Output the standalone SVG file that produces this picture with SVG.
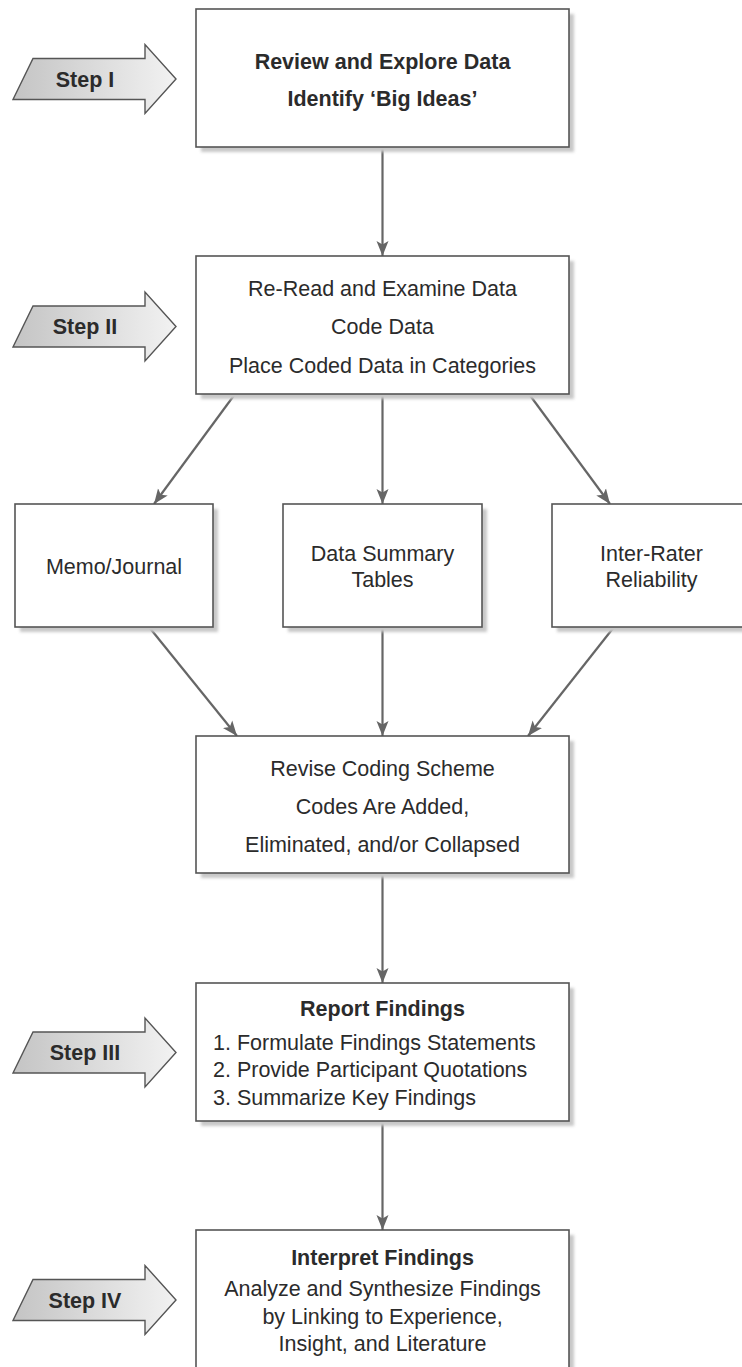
<svg xmlns="http://www.w3.org/2000/svg" width="742" height="1367" viewBox="0 0 742 1367">
  <defs>
    <linearGradient id="stepFill" x1="0" y1="0" x2="1" y2="0">
      <stop offset="0" stop-color="#c4c4c4"/>
      <stop offset="1" stop-color="#f2f2f2"/>
    </linearGradient>
    <filter id="soft" x="-5%" y="-5%" width="110%" height="110%">
      <feGaussianBlur stdDeviation="1.5"/>
    </filter>
    <marker id="ah" markerUnits="userSpaceOnUse" markerWidth="16" markerHeight="16" viewBox="0 0 16 16" refX="15" refY="8" orient="auto">
      <path d="M0,2 L15,8 L0,14 L3.5,8 Z" fill="#666"/>
    </marker>
    <path id="stepShape" d="M13,20.5 L33,-20.5 L145,-20.5 L145,-34.5 L176,0 L145,34.5 L145,20.5 Z"/>
  </defs>
  <style>
    .box { fill: #fff; stroke: #555; stroke-width: 1.6; }
    .shadow { fill: #c8c8c8; filter: url(#soft); }
    .step { fill: url(#stepFill); stroke: #555; stroke-width: 1.4; }
    .t { font-family: "Liberation Sans", Arial, sans-serif; font-size: 21.5px; fill: #2b2b2b; text-anchor: middle; }
    .b { font-weight: bold; }
    .l { text-anchor: start; }
    .conn { stroke: #666; stroke-width: 2.2; fill: none; marker-end: url(#ah); }
  </style>
  <rect width="742" height="1367" fill="#fff"/>

  <g id="connectors">
    <line class="conn" x1="382.5" y1="147" x2="382.5" y2="256"/>
    <line class="conn" x1="235" y1="394" x2="154" y2="504"/>
    <line class="conn" x1="382.5" y1="394" x2="382.5" y2="504"/>
    <line class="conn" x1="529" y1="394" x2="610" y2="504"/>
    <line class="conn" x1="149" y1="627" x2="237" y2="736"/>
    <line class="conn" x1="382.5" y1="627" x2="382.5" y2="736"/>
    <line class="conn" x1="614" y1="627" x2="528" y2="736"/>
    <line class="conn" x1="382.5" y1="873" x2="382.5" y2="983"/>
    <line class="conn" x1="382.5" y1="1121" x2="382.5" y2="1230"/>
  </g>

  <g id="step1" transform="translate(0,79)">
    <use href="#stepShape" class="step"/>
    <text class="t b" x="85" y="7.5" font-size="20">Step I</text>
  </g>
  <g id="step2" transform="translate(0,326.5)">
    <use href="#stepShape" class="step"/>
    <text class="t b" x="85" y="7.5" font-size="20">Step II</text>
  </g>
  <g id="step3" transform="translate(0,1052.5)">
    <use href="#stepShape" class="step"/>
    <text class="t b" x="85" y="7.5" font-size="20">Step III</text>
  </g>
  <g id="step4" transform="translate(0,1300)">
    <use href="#stepShape" class="step"/>
    <text class="t b" x="85" y="7.5" font-size="20">Step IV</text>
  </g>

  <g id="review">
    <rect class="shadow" x="201" y="14" width="373" height="138"/>
    <rect class="box" x="196" y="9" width="373" height="138"/>
    <text class="t b" x="382.5" y="69">Review and Explore Data</text>
    <text class="t b" x="382.5" y="106">Identify ‘Big Ideas’</text>
  </g>

  <g id="reread">
    <rect class="shadow" x="201" y="261" width="373" height="138"/>
    <rect class="box" x="196" y="256" width="373" height="138"/>
    <text class="t" x="382.5" y="295.5">Re-Read and Examine Data</text>
    <text class="t" x="382.5" y="334">Code Data</text>
    <text class="t" x="382.5" y="372.5">Place Coded Data in Categories</text>
  </g>

  <g id="memo">
    <rect class="shadow" x="20" y="509" width="198" height="123"/>
    <rect class="box" x="15" y="504" width="198" height="123"/>
    <text class="t" x="114" y="574">Memo/Journal</text>
  </g>

  <g id="summary">
    <rect class="shadow" x="288" y="509" width="199" height="123"/>
    <rect class="box" x="283" y="504" width="199" height="123"/>
    <text class="t" x="382.5" y="560.5">Data Summary</text>
    <text class="t" x="382.5" y="586.5">Tables</text>
  </g>

  <g id="interrater">
    <rect class="shadow" x="557" y="509" width="199" height="123"/>
    <rect class="box" x="552" y="504" width="199" height="123"/>
    <text class="t" x="651.5" y="560.5">Inter-Rater</text>
    <text class="t" x="651.5" y="586.5">Reliability</text>
  </g>

  <g id="revise">
    <rect class="shadow" x="201" y="741" width="373" height="137"/>
    <rect class="box" x="196" y="736" width="373" height="137"/>
    <text class="t" x="382.5" y="775.5">Revise Coding Scheme</text>
    <text class="t" x="382.5" y="813.5">Codes Are Added,</text>
    <text class="t" x="382.5" y="851.5">Eliminated, and/or Collapsed</text>
  </g>

  <g id="report">
    <rect class="shadow" x="201" y="988" width="373" height="138"/>
    <rect class="box" x="196" y="983" width="373" height="138"/>
    <text class="t b" x="382.5" y="1016">Report Findings</text>
    <text class="t l" x="213" y="1049.5">1. Formulate Findings Statements</text>
    <text class="t l" x="213" y="1077">2. Provide Participant Quotations</text>
    <text class="t l" x="213" y="1104.5">3. Summarize Key Findings</text>
  </g>

  <g id="interpret">
    <rect class="shadow" x="201" y="1235" width="373" height="150"/>
    <rect class="box" x="196" y="1230" width="373" height="150"/>
    <text class="t b" x="382.5" y="1264.5">Interpret Findings</text>
    <text class="t" x="382.5" y="1295.5">Analyze and Synthesize Findings</text>
    <text class="t" x="382.5" y="1324">by Linking to Experience,</text>
    <text class="t" x="382.5" y="1350.5">Insight, and Literature</text>
  </g>
</svg>
